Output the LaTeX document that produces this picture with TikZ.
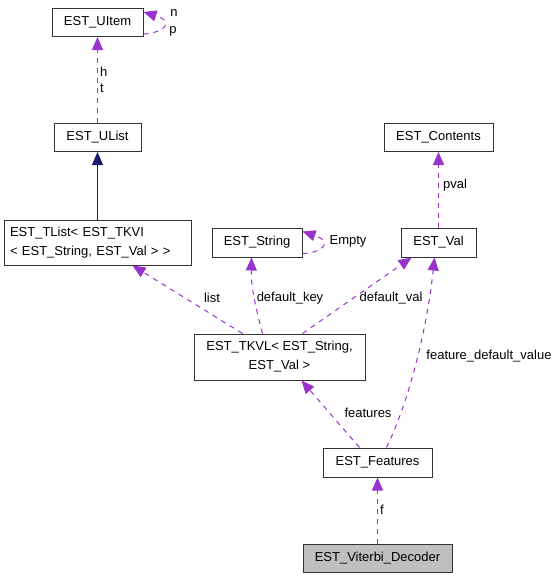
\documentclass[tikz,border=0pt]{standalone}
\usepackage{fontspec}
\setmainfont{Liberation Sans}
\usetikzlibrary{arrows.meta,calc}
\definecolor{dep}{HTML}{9A32CD}
\definecolor{inh}{HTML}{191970}
\definecolor{bord}{HTML}{333333}
\begin{document}
\begin{tikzpicture}[x=1pt,y=-1pt,
  cls/.style={draw=bord,line width=1pt,fill=white,inner sep=0pt,font=\fontsize{13}{19}\selectfont},
  use/.style={draw=dep,line width=1pt,dash pattern=on 5pt off 5pt,-{Triangle[length=13pt,width=11pt,fill=dep]}},
  inherit/.style={draw=inh,line width=1pt,-{Triangle[length=13pt,width=11pt,fill=inh]}},
  lbl/.style={inner sep=0pt,font=\fontsize{13}{15}\selectfont}]
\useasboundingbox (0,0) rectangle (557,579);
\node[cls,minimum width=91pt,minimum height=28pt] (uitem) at (97.5,22.5) {EST\_UItem};
\node[cls,minimum width=87pt,minimum height=28pt] (ulist) at (97.5,137.5) {EST\_UList};
\node[cls,minimum width=187pt,minimum height=45pt,align=left,text width=175pt] (tlist) at (97.5,242.5) {EST\_TList< EST\_TKVI\\< EST\_String, EST\_Val > >};
\node[cls,minimum width=90pt,minimum height=29pt] (string) at (257,242.5) {EST\_String};
\node[cls,minimum width=75pt,minimum height=29pt] (val) at (438.5,242.5) {EST\_Val};
\node[cls,minimum width=109pt,minimum height=28pt] (contents) at (438.5,137.5) {EST\_Contents};
\node[cls,minimum width=171pt,minimum height=46pt,align=center] (tkvl) at (279.5,357) {EST\_TKVL< EST\_String,\\EST\_Val >};
\node[cls,minimum width=109pt,minimum height=29pt] (features) at (377.5,462.5) {EST\_Features};
\node[cls,minimum width=149pt,minimum height=28pt,fill=black!25] (viterbi) at (377.5,558) {EST\_Viterbi\_Decoder};
% edges
\draw[use] (ulist.north) -- (uitem.south);
\node[lbl,anchor=west] (lh) at (100,72) {h};
\node[lbl,anchor=west] (lt) at (100,88) {t};
\draw[use] ($(uitem.south east)+(0,-3)$) .. controls (163,33) and (176,22) .. ($(uitem.north east)+(0,4)$);
\node[lbl] (ln) at (174,13) {n};
\node[lbl] (lp) at (173,31) {p};
\draw[inherit] (tlist.north) -- (ulist.south);
\draw[use] ($(tkvl.north west)+(49,0)$) -- ($(tlist.south west)+(129,0)$);
\node[lbl] (llist) at (212,298) {list};
\draw[use] ($(tkvl.north west)+(69,0)$) .. controls (257,312) and (251,290) .. ($(string.south west)+(40,0)$);
\node[lbl] (lkey) at (290,298) {default\_key};
\draw[use] ($(string.south east)+(0,-4)$) .. controls (322,253) and (334,242) .. ($(string.north east)+(0,4)$);
\node[lbl] (lempty) at (348,241) {Empty};
\draw[use] ($(tkvl.north west)+(109,0)$) -- ($(val.south west)+(11,0)$);
\node[lbl] (ldval) at (391,298) {default\_val};
\draw[use] (val.north) -- (contents.south);
\node[lbl] (lpval) at (455,185) {pval};
\draw[use] ($(features.north west)+(37,0)$) -- ($(tkvl.south west)+(108,0)$);
\node[lbl] (lfeat) at (368,413) {features};
\draw[use] ($(features.north west)+(64,0)$) .. controls (412,395) and (428,320) .. ($(val.south west)+(34,0)$);
\node[lbl] (lfdv) at (489,356) {feature\_default\_value};
\draw[use] (viterbi.north) -- (features.south);
\node[lbl] (lf) at (382,510) {f};
\end{tikzpicture}
\end{document}
